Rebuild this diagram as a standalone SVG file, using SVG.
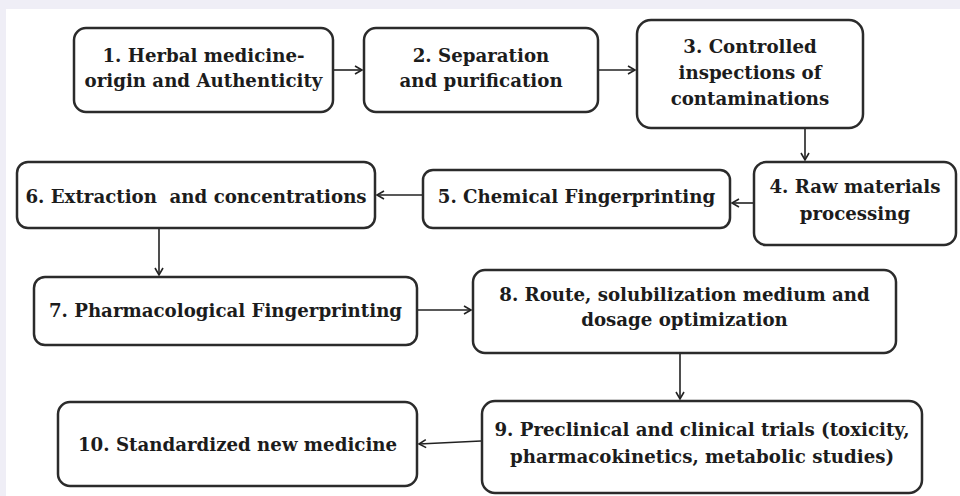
<svg xmlns="http://www.w3.org/2000/svg" width="960" height="496" viewBox="0 0 960 496">
<style>
.box{fill:#fff;stroke:#2b2b2b;stroke-width:2.5}
.t{font-family:"DejaVu Serif","Liberation Serif",serif;font-weight:bold;font-size:18.2px;fill:#1c1c1c;text-anchor:middle}
.c{fill:none;stroke:#222;stroke-width:1.6}
</style>
<defs>
<marker id="ah" markerUnits="userSpaceOnUse" markerWidth="12" markerHeight="12" refX="8" refY="5" orient="auto">
<path d="M1,1 L8,5 L1,9" fill="none" stroke="#222" stroke-width="1.6"/>
</marker>
</defs>
<rect x="0" y="0" width="960" height="496" fill="#efeef6"/>
<rect x="6" y="9" width="954" height="487" fill="#fff"/>
<g id="connectors">
<line class="c" x1="334" y1="70" x2="362" y2="70" marker-end="url(#ah)"/>
<line class="c" x1="599" y1="70" x2="635" y2="70" marker-end="url(#ah)"/>
<line class="c" x1="805" y1="129" x2="805" y2="160" marker-end="url(#ah)"/>
<line class="c" x1="753" y1="203" x2="732" y2="203" marker-end="url(#ah)"/>
<line class="c" x1="422" y1="195" x2="377" y2="195" marker-end="url(#ah)"/>
<line class="c" x1="159" y1="229" x2="159" y2="275" marker-end="url(#ah)"/>
<line class="c" x1="418" y1="310" x2="471" y2="310" marker-end="url(#ah)"/>
<line class="c" x1="680" y1="354" x2="680" y2="399" marker-end="url(#ah)"/>
<line class="c" x1="481" y1="441" x2="419" y2="444" marker-end="url(#ah)"/>
</g>
<g id="n1"><rect class="box" x="74" y="28" width="259" height="84" rx="12"/>
<text class="t" x="203.5" y="62">1. Herbal medicine-</text><text class="t" x="203.5" y="87">origin and Authenticity</text></g>
<g id="n2"><rect class="box" x="364" y="28" width="234" height="84" rx="12"/>
<text class="t" x="481" y="62">2. Separation</text><text class="t" x="481" y="87">and purification</text></g>
<g id="n3"><rect class="box" x="637" y="20" width="226" height="108" rx="14"/>
<text class="t" x="750" y="53">3. Controlled</text><text class="t" x="750" y="79">inspections of</text><text class="t" x="750" y="105">contaminations</text></g>
<g id="n4"><rect class="box" x="754" y="162" width="202" height="83" rx="12"/>
<text class="t" x="855" y="193">4. Raw materials</text><text class="t" x="855" y="220">processing</text></g>
<g id="n5"><rect class="box" x="423" y="170" width="307" height="58" rx="10"/>
<text class="t" x="576.5" y="203">5. Chemical Fingerprinting</text></g>
<g id="n6"><rect class="box" x="17" y="162" width="358" height="66" rx="11"/>
<text class="t" x="196" y="203" xml:space="preserve">6. Extraction  and concentrations</text></g>
<g id="n7"><rect class="box" x="34" y="277" width="383" height="68" rx="11"/>
<text class="t" x="225.5" y="317">7. Pharmacological Fingerprinting</text></g>
<g id="n8"><rect class="box" x="473" y="270" width="423" height="83" rx="12"/>
<text class="t" x="684.5" y="301">8. Route, solubilization medium and</text><text class="t" x="684.5" y="326">dosage optimization</text></g>
<g id="n9"><rect class="box" x="482" y="401" width="440" height="92" rx="13"/>
<text class="t" x="702" y="436">9. Preclinical and clinical trials (toxicity,</text><text class="t" x="702" y="463">pharmacokinetics, metabolic studies)</text></g>
<g id="n10"><rect class="box" x="58" y="402" width="359" height="84" rx="12"/>
<text class="t" x="237.5" y="451">10. Standardized new medicine</text></g>
</svg>
